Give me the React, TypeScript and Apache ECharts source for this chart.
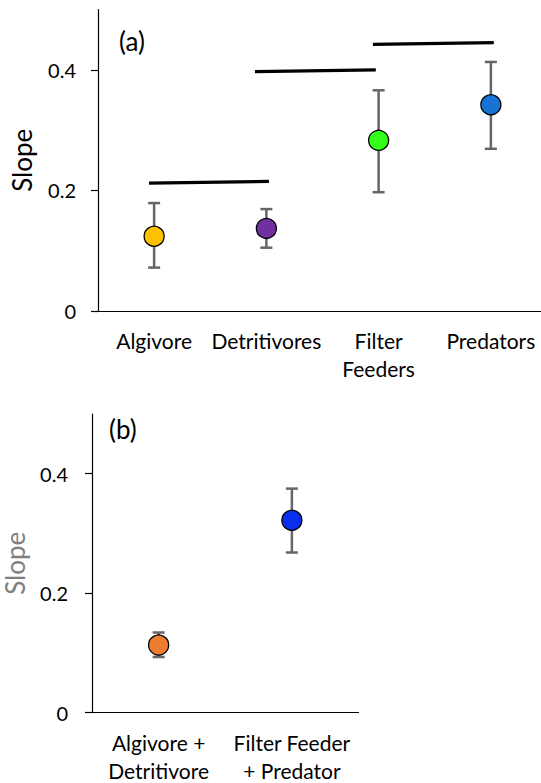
import React, { useEffect, useRef } from "react";
import * as echarts from "echarts";

const categoriesA = ["Algivore", "Detritivores", "Filter\nFeeders", "Predators"];
const slopesA = [0.124, 0.137, 0.283, 0.342];
const lowerA = [0.072, 0.105, 0.197, 0.269];
const upperA = [0.179, 0.169, 0.366, 0.413];
const colorsA = ["#FFC000", "#7030A0", "#33FF1A", "#1874D4"];

const categoriesB = ["Algivore +\nDetritivore", "Filter Feeder\n+ Predator"];
const slopesB = [0.113, 0.322];
const lowerB = [0.093, 0.268];
const upperB = [0.134, 0.375];
const colorsB = ["#ED7D31", "#0A2EF0"];

const yTicks = [0, 0.2, 0.4];

// significance lines (x in category-index units, y slope)
const sigLine1 = [[-0.046, 0.212], [1.023, 0.215]];
const sigLine2 = [[0.898, 0.397], [1.975, 0.4]];
const sigLine3 = [[1.949, 0.442], [3.026, 0.445]];

const FONT = "Lato";

function errorRender(params: any, api: any) {
  const x = api.value(0);
  const lo = api.coord([x, api.value(1)]);
  const hi = api.coord([x, api.value(2)]);
  const cap = 6;
  const style = { stroke: "#666666", lineWidth: 2.5 };
  return {
    type: "group",
    children: [
      { type: "line", shape: { x1: lo[0], y1: lo[1], x2: hi[0], y2: hi[1] }, style },
      { type: "line", shape: { x1: hi[0] - cap, y1: hi[1], x2: hi[0] + cap, y2: hi[1] }, style },
      { type: "line", shape: { x1: lo[0] - cap, y1: lo[1], x2: lo[0] + cap, y2: lo[1] }, style },
    ],
  };
}

export default function App() {
  const ref = useRef<HTMLDivElement>(null);
  useEffect(() => {
    if (!ref.current) return;
    const chart = echarts.init(ref.current, null, { renderer: "svg" });
    const yAxisBase = (gridIndex: number, nameColor: string, gap: number, labelMargin: number) => ({
      type: "value",
      gridIndex,
      min: 0,
      max: 0.5,
      interval: 0.1,
      name: "Slope",
      nameLocation: "middle",
      nameGap: gap,
      nameRotate: 90,
      nameTextStyle: { fontFamily: FONT, fontSize: 26, color: nameColor },
      axisLine: { show: true, onZero: false, lineStyle: { color: "#000", width: 1.2 } },
      axisTick: { show: true, length: 7, customValues: yTicks, lineStyle: { color: "#000", width: 1.2 } },
      axisLabel: {
        customValues: yTicks,
        margin: labelMargin,
        fontFamily: FONT,
        fontSize: 20,
        color: "#000",
        formatter: (v: number) => (v === 0 ? "0" : v.toFixed(1)),
      },
      splitLine: { show: false },
    });
    const catAxis = (gridIndex: number, data: string[], margin: number) => ({
      type: "category",
      gridIndex,
      data,
      axisLine: { show: true, onZero: false, lineStyle: { color: "#000", width: 1.2 } },
      axisTick: { show: false },
      axisLabel: {
        margin,
        interval: 0,
        fontFamily: FONT,
        fontSize: 21,
        lineHeight: 28,
        color: "#000",
      },
    });
    const option: any = {
      animation: false,
      backgroundColor: "#fff",
      title: [
        { text: "(a)", left: 119, top: 28, padding: 0, textStyle: { fontFamily: FONT, fontSize: 26, fontWeight: "normal", color: "#000" } },
        { text: "(b)", left: 109, top: 416, padding: 0, textStyle: { fontFamily: FONT, fontSize: 26, fontWeight: "normal", color: "#000" } },
      ],
      grid: [
        { left: 98, top: 9.5, width: 449, height: 301.5, outerBoundsMode: "none", containLabel: false },
        { left: 92, top: 414, width: 266.5, height: 298.5, outerBoundsMode: "none", containLabel: false },
      ],
      xAxis: [
        catAxis(0, categoriesA, 15),
        { type: "value", gridIndex: 0, min: -0.5, max: 3.5, show: false },
        catAxis(1, categoriesB, 16),
      ],
      yAxis: [yAxisBase(0, "#000", 63, 22), yAxisBase(1, "#7F7F7F", 64, 24)],
      series: [
        {
          type: "custom",
          xAxisIndex: 0,
          yAxisIndex: 0,
          renderItem: errorRender,
          encode: { x: 0, y: [1, 2] },
          data: categoriesA.map((_, i) => [i, lowerA[i], upperA[i]]),
          z: 2,
        },
        {
          type: "scatter",
          xAxisIndex: 0,
          yAxisIndex: 0,
          symbolSize: 20,
          z: 3,
          data: slopesA.map((v, i) => ({
            value: [i, v],
            itemStyle: { color: colorsA[i], borderColor: "#000", borderWidth: 1.3, opacity: 1 },
          })),
        },
        ...[sigLine1, sigLine2, sigLine3].map((d) => ({
          type: "line",
          xAxisIndex: 1,
          yAxisIndex: 0,
          data: d,
          symbol: "none",
          lineStyle: { color: "#000", width: 3.2 },
          z: 4,
        })),
        {
          type: "custom",
          xAxisIndex: 2,
          yAxisIndex: 1,
          renderItem: errorRender,
          encode: { x: 0, y: [1, 2] },
          data: categoriesB.map((_, i) => [i, lowerB[i], upperB[i]]),
          z: 2,
        },
        {
          type: "scatter",
          xAxisIndex: 2,
          yAxisIndex: 1,
          symbolSize: 20,
          z: 3,
          data: slopesB.map((v, i) => ({
            value: [i, v],
            itemStyle: { color: colorsB[i], borderColor: "#000", borderWidth: 1.3, opacity: 1 },
          })),
        },
      ],
    };
    chart.setOption(option);
    return () => chart.dispose();
  }, []);
  return (
    <div
      ref={ref}
      style={{ position: "fixed", left: 0, top: 0, width: 541, height: 783, background: "#fff" }}
    />
  );
}
